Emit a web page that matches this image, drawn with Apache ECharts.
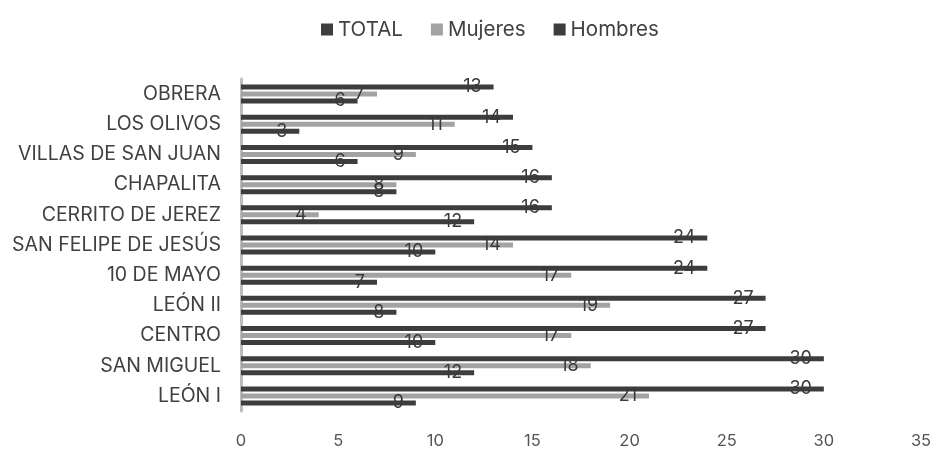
<!DOCTYPE html>
<html><head><meta charset="utf-8">
<script src="https://cdn.jsdelivr.net/npm/echarts@6/dist/echarts.min.js"></script>
<style>html,body{margin:0;padding:0;background:#fff}#c{width:936px;height:450px}</style>
</head><body><div id="c"></div>
<script>
const categories = ['LEÓN I','SAN MIGUEL','CENTRO','LEÓN II','10 DE MAYO','SAN FELIPE DE JESÚS','CERRITO DE JEREZ','CHAPALITA','VILLAS DE SAN JUAN','LOS OLIVOS','OBRERA'];
const total   = [30,30,27,27,24,24,16,16,15,14,13];
const mujeres = [21,18,17,19,17,14,4,8,9,11,7];
const hombres = [9,12,10,8,7,10,12,8,6,3,6];
const xTicks = [0,5,10,15,20,25,30,35];

const font = 'Inter, "Noto Sans", sans-serif';
const lbl = {show:true, position:'insideRight', distance:12, color:'#3a3a3a', fontSize:18, fontFamily:font};
const chart = echarts.init(document.getElementById('c'));
chart.setOption({
  animation:false,
  legend:{top:14, left:316, icon:'rect', itemWidth:12, itemHeight:12, itemGap:28,
    textStyle:{fontSize:20.5, color:'#404040', fontFamily:font},
    data:['TOTAL','Mujeres','Hombres']},
  grid:{left:241, right:15, top:79, height:332, containLabel:false},
  xAxis:{type:'value', min:xTicks[0], max:xTicks[xTicks.length-1], interval:5,
    splitLine:{show:false}, axisLine:{show:false}, axisTick:{show:false},
    axisLabel:{fontSize:16.5, color:'#555', margin:22, fontFamily:font}},
  yAxis:{type:'category', data:categories,
    axisLine:{show:true, lineStyle:{color:'#bdbdbd', width:3}}, axisTick:{show:false},
    axisLabel:{fontSize:19.5, color:'#404040', margin:20, fontFamily:font}},
  series:[
    {name:'TOTAL', type:'bar', data:total, barWidth:5, barGap:'40%', itemStyle:{color:'#3d3d3d'}, label:lbl},
    {name:'Mujeres', type:'bar', data:mujeres, barWidth:5, barGap:'40%', itemStyle:{color:'#a3a3a3'}, label:lbl},
    {name:'Hombres', type:'bar', data:hombres, barWidth:5, barGap:'40%', itemStyle:{color:'#3d3d3d'}, label:lbl}
  ]
});
</script></body></html>
